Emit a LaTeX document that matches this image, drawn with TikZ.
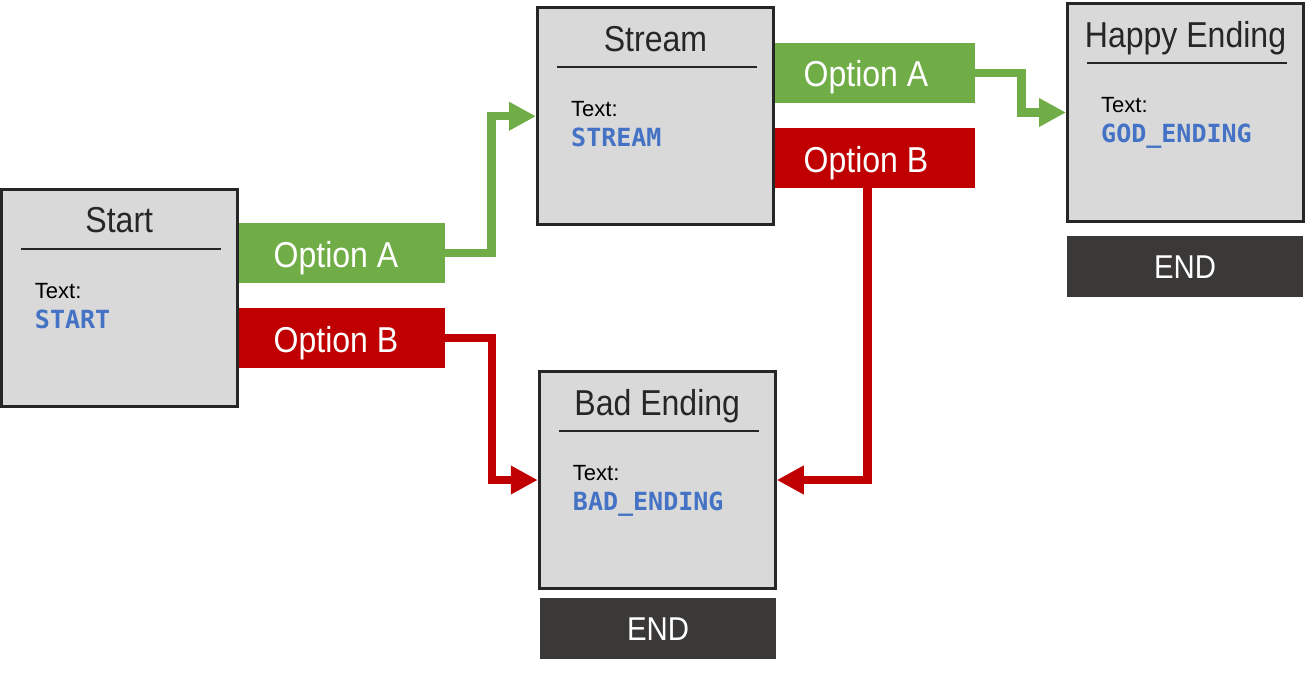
\documentclass[tikz,border=0pt]{standalone}
\usepackage{fontspec}
\setmainfont{Liberation Sans}
\newfontfamily\condf{Liberation Sans}[FakeStretch=0.89]
\newfontfamily\codef{DejaVu Sans Mono}
\usetikzlibrary{arrows.meta,calc}
\definecolor{boxfill}{HTML}{D9D9D9}
\definecolor{boxline}{HTML}{262626}
\definecolor{optgreen}{HTML}{70AD47}
\definecolor{optred}{HTML}{C00000}
\definecolor{endfill}{HTML}{3A3938}
\definecolor{codeblue}{HTML}{4472C4}
\tikzset{
  statebox/.style={draw=boxline, fill=boxfill, line width=3pt, minimum width=236pt, minimum height=217pt, inner sep=0pt},
  titletext/.style={anchor=base, inner sep=0pt, text=boxline, font=\condf\fontsize{36}{40}\selectfont},
  labeltext/.style={anchor=base west, inner sep=0pt, text=black, font=\fontsize{22}{26}\selectfont},
  codetext/.style={anchor=base west, inner sep=0pt, text=codeblue, font=\codef\bfseries\fontsize{25}{28}\selectfont},
  optbox/.style={inner sep=0pt, minimum height=60pt},
  opttext/.style={anchor=base, inner sep=0pt, text=white, font=\condf\fontsize{36}{40}\selectfont},
  endbox/.style={fill=endfill, inner sep=0pt, minimum width=236pt, minimum height=61pt},
  endtext/.style={anchor=base, inner sep=0pt, text=white, font=\condf\fontsize{33}{36}\selectfont},
  garrow/.style={draw=optgreen, line width=8.5pt, -{Triangle[length=27pt,width=27pt]}},
  rarrow/.style={draw=optred, line width=8.5pt, -{Triangle[length=27pt,width=27pt]}},
}
\begin{document}
\begin{tikzpicture}[x=1pt,y=-1pt]
\useasboundingbox (0,0) rectangle (1310,674);
% state boxes
\node[statebox] (start) at (119.25,298) {};
\node[statebox] (stream) at (655.5,116.25) {};
\node[statebox] (happy) at (1185.5,112.5) {};
\node[statebox] (bad) at (657.25,480) {};
% option boxes
\node[optbox, fill=optgreen, minimum width=206pt] (optA1) at (342,253) {};
\node[optbox, fill=optred, minimum width=206pt] (optB1) at (342,338) {};
\node[optbox, fill=optgreen, minimum width=200pt] (optA2) at (875,73) {};
\node[optbox, fill=optred, minimum width=200pt] (optB2) at (875,158) {};
% end boxes
\node[endbox] (end1) at (1185,266.5) {};
\node[endbox] (end2) at (658,628) {};
% connectors
\draw[garrow] (optA1.east) -- ++(46.5,0) |- (stream.west);
\draw[rarrow] (optB1.east) -- ++(47,0) |- (bad.west);
\draw[garrow] (optA2.east) -- ++(46.5,0) |- (happy.west);
\draw[rarrow] ($(optB2.south)+(-7.5,0)$) |- (bad.east);
% box contents
\foreach \b/\t/\c in {start/Start/START, stream/Stream/STREAM, happy/Happy Ending/GOD\_ENDING, bad/Bad Ending/BAD\_ENDING}{
  \node[titletext] (\b-title) at ($(\b.north)+(0,45)$) {\t};
  \draw[boxline, line width=2pt] ($(\b.north)+(-98.5,60.5)$) -- ($(\b.north)+(101.5,60.5)$);
  \node[labeltext] (\b-label) at ($(\b.north west)+(35,110)$) {Text:};
  \node[codetext] (\b-code) at ($(\b.north west)+(35,140)$) {\c};
}
% option texts
\node[opttext] (tA1) at ($(optA1.center)+(-6,14)$) {Option A};
\node[opttext] (tB1) at ($(optB1.center)+(-6,14)$) {Option B};
\node[opttext] (tA2) at ($(optA2.center)+(-9,14)$) {Option A};
\node[opttext] (tB2) at ($(optB2.center)+(-9,14)$) {Option B};
% end texts
\node[endtext] (e1) at ($(end1.center)+(0,12)$) {END};
\node[endtext] (e2) at ($(end2.center)+(0,12)$) {END};
\end{tikzpicture}
\end{document}
